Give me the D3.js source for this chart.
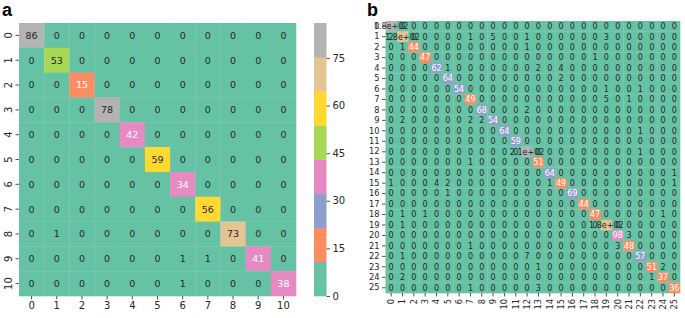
<!DOCTYPE html>
<html>
<head>
<meta charset="utf-8">
<script src="https://cdn.jsdelivr.net/npm/d3@7"></script>
<style>
  body { margin: 0; background: #fff; }
  text { font-family: "DejaVu Sans", sans-serif; }
</style>
</head>
<body>
<div id="chart"></div>
<script>
// panel a: 11 classes
let labelsA = d3.range(11)
let matrixA = [
    [86, 0, 0, 0, 0, 0, 0, 0, 0, 0, 0],
    [0, 53, 0, 0, 0, 0, 0, 0, 0, 0, 0],
    [0, 0, 15, 0, 0, 0, 0, 0, 0, 0, 0],
    [0, 0, 0, 78, 0, 0, 0, 0, 0, 0, 0],
    [0, 0, 0, 0, 42, 0, 0, 0, 0, 0, 0],
    [0, 0, 0, 0, 0, 59, 0, 0, 0, 0, 0],
    [0, 0, 0, 0, 0, 0, 34, 0, 0, 0, 0],
    [0, 0, 0, 0, 0, 0, 0, 56, 0, 0, 0],
    [0, 1, 0, 0, 0, 0, 0, 0, 73, 0, 0],
    [0, 0, 0, 0, 0, 0, 1, 1, 0, 41, 0],
    [0, 0, 0, 0, 0, 0, 1, 0, 0, 0, 38]
]
let colorbarTicksA = [0, 15, 30, 45, 60, 75]

// panel b: 26 classes
let labelsB = d3.range(26)
let matrixB = [
    [183,0,0,0,0,0,0,0,0,0,0,0,0,0,0,0,0,0,0,0,0,0,0,0,0,0],
    [2,177,0,0,0,0,0,1,0,5,0,0,1,0,0,0,0,0,0,3,0,0,0,0,0,0],
    [0,1,44,0,0,0,0,0,0,0,0,0,1,0,0,0,0,0,0,0,0,0,0,0,0,0],
    [0,0,0,47,0,0,0,0,0,0,0,0,0,0,0,0,0,0,1,0,0,0,0,0,0,0],
    [0,0,0,0,62,1,0,0,0,0,0,0,0,2,0,4,0,0,0,0,0,0,0,0,0,0],
    [0,0,0,0,0,64,0,0,0,0,0,0,0,0,0,2,0,0,0,0,0,0,0,0,0,0],
    [0,0,0,0,0,0,54,0,0,0,0,0,0,0,0,0,0,0,0,1,0,0,1,0,0,0],
    [0,0,0,0,0,0,0,49,0,0,0,0,0,0,0,0,0,0,0,5,0,1,0,0,0,0],
    [0,0,0,0,0,0,0,0,68,0,0,0,2,0,0,0,0,0,0,0,0,0,0,0,0,0],
    [0,2,0,0,0,0,0,2,2,54,0,0,0,0,0,0,0,0,0,0,0,0,0,0,0,0],
    [0,0,0,0,0,0,0,0,0,0,64,0,0,0,0,0,0,0,0,0,0,0,1,0,0,0],
    [0,0,0,0,0,0,0,0,0,0,0,59,0,0,0,0,0,0,0,0,0,0,0,0,0,0],
    [0,0,0,0,0,0,0,0,0,0,0,0,206,0,0,0,0,0,0,0,0,0,1,0,0,0],
    [0,0,0,0,0,0,0,1,0,0,0,0,0,51,0,0,0,0,0,0,0,0,0,0,0,0],
    [0,0,0,0,0,0,0,0,0,0,0,0,0,0,64,0,0,0,0,0,0,0,0,0,0,1],
    [1,0,0,0,4,2,0,0,0,0,0,0,0,0,1,49,0,0,0,0,0,0,0,0,0,1],
    [0,0,0,0,0,1,0,0,0,0,0,0,0,0,0,0,69,0,0,0,0,0,0,0,0,0],
    [0,0,0,0,0,0,0,0,0,0,0,0,0,0,0,0,0,44,0,0,0,0,0,0,0,0],
    [0,1,0,1,0,0,0,0,0,0,0,0,0,0,0,0,0,0,47,0,0,0,0,0,1,0],
    [0,1,0,0,0,0,0,0,0,0,0,0,0,0,0,0,0,0,0,176,0,0,0,0,0,0],
    [0,0,0,0,0,0,0,0,0,0,0,0,0,0,0,0,0,0,0,0,98,3,0,0,0,0],
    [0,0,0,0,0,0,0,1,0,0,0,0,0,0,0,0,0,0,0,0,3,48,0,0,0,0],
    [0,1,0,0,0,0,0,0,0,0,0,0,7,0,0,0,0,0,0,0,0,0,57,0,0,0],
    [0,0,0,0,0,0,0,0,0,0,0,0,0,1,0,0,0,0,0,0,0,0,0,51,2,0],
    [0,2,0,0,0,0,0,0,0,0,0,0,0,0,0,0,0,0,0,0,0,0,0,1,37,0],
    [0,0,0,0,0,0,0,1,0,0,0,0,0,3,0,0,0,0,0,0,0,0,0,0,0,36]
]

let palette = d3.schemeSet2
let darkText = "#262626"

// same rule seaborn uses to pick annotation colour
function luminance(c) {
    let rgb = d3.rgb(c)
    let lin = [rgb.r, rgb.g, rgb.b].map(v => {
        v = v / 255
        return v <= 0.03928 ? v / 12.92 : Math.pow((v + 0.055) / 1.055, 2.4)
    })
    return 0.2126 * lin[0] + 0.7152 * lin[1] + 0.0722 * lin[2]
}

// matplotlib-style ".2g"
function fmt(v) {
    if (v < 100) return String(v)
    return v.toExponential(1).replace(/e\+(\d)$/, "e+0$1")
}

let svg = d3.select("#chart").append("svg")
    .attr("width", 685)
    .attr("height", 318)

function drawHeatmap(cfg) {
    let g = svg.append("g")
    let flat = []
    cfg.matrix.forEach((row, i) => row.forEach((v, j) => flat.push({i: i, j: j, v: v})))

    let x = d3.scaleBand().domain(cfg.labels).range([cfg.left, cfg.right])
    let y = d3.scaleBand().domain(cfg.labels).range([cfg.top, cfg.bottom])
    let color = d3.scaleQuantize().domain([0, d3.max(flat, d => d.v)]).range(palette)

    g.selectAll(".cell")
        .data(flat)
        .enter().append("rect")
        .attr("class", "cell")
        .attr("x", d => x(d.j))
        .attr("y", d => y(d.i))
        .attr("width", x.bandwidth() + 0.3)
        .attr("height", y.bandwidth() + 0.3)
        .attr("fill", d => color(d.v))

    g.selectAll(".annot")
        .data(flat)
        .enter().append("text")
        .attr("class", "annot")
        .attr("x", d => x(d.j) + x.bandwidth() / 2)
        .attr("y", d => y(d.i) + y.bandwidth() / 2)
        .attr("dy", "0.36em")
        .attr("text-anchor", "middle")
        .attr("font-size", cfg.annotSize)
        .attr("fill", d => luminance(color(d.v)) > 0.408 ? darkText : "#fff")
        .text(d => fmt(d.v))

    // y axis
    let yAxis = g.append("g")
        .attr("transform", `translate(${cfg.left},0)`)
        .call(d3.axisLeft(y).tickSize(3.5).tickPadding(2.5))
    yAxis.select(".domain").remove()
    yAxis.selectAll("line").attr("stroke", darkText).attr("stroke-width", 0.8)
    yAxis.selectAll("text")
        .attr("font-size", cfg.tickSize)
        .attr("fill", darkText)
        .style("font-family", "DejaVu Sans")
    if (cfg.rotateY) {
        yAxis.selectAll("text")
            .attr("text-anchor", "middle")
            .attr("x", null).attr("dy", null)
            .attr("transform", "translate(-11,0) rotate(-90)")
            .attr("dy", "0.36em")
    }

    // x axis
    let xAxis = g.append("g")
        .attr("transform", `translate(0,${cfg.bottom})`)
        .call(d3.axisBottom(x).tickSize(3.5).tickPadding(2.5))
    xAxis.select(".domain").remove()
    xAxis.selectAll("line").attr("stroke", darkText).attr("stroke-width", 0.8)
    xAxis.selectAll("text")
        .attr("font-size", cfg.tickSize)
        .attr("fill", darkText)
        .style("font-family", "DejaVu Sans")
    if (cfg.rotateX) {
        xAxis.selectAll("text")
            .attr("text-anchor", "end")
            .attr("y", null).attr("dy", null)
            .attr("transform", "translate(0,6) rotate(-90)")
            .attr("dy", "0.36em")
    }

    // panel letter
    svg.append("text")
        .attr("x", cfg.letterX)
        .attr("y", 16)
        .attr("font-size", 18)
        .attr("font-weight", "bold")
        .style("font-family", "Liberation Sans, Arial, sans-serif")
        .attr("fill", "#000")
        .text(cfg.letter)

    return color
}

let colorA = drawHeatmap({
    matrix: matrixA, labels: labelsA,
    left: 19, right: 296, top: 23, bottom: 296,
    annotSize: 9.5, tickSize: 10,
    rotateY: true, rotateX: false,
    letter: "a", letterX: 2
})

drawHeatmap({
    matrix: matrixB, labels: labelsB,
    left: 385.5, right: 680, top: 21, bottom: 293,
    annotSize: 8, tickSize: 8.3,
    rotateY: false, rotateX: true,
    letter: "b", letterX: 367
})

// colorbar for panel a
let cbTop = 23, cbBottom = 296, cbLeft = 314, cbWidth = 12.5
let cbScale = d3.scaleLinear().domain(colorA.domain()).range([cbBottom, cbTop])
let cb = svg.append("g")
cb.selectAll("rect")
    .data(colorA.range())
    .enter().append("rect")
    .attr("x", cbLeft)
    .attr("y", d => cbScale(colorA.invertExtent(d)[1]))
    .attr("width", cbWidth)
    .attr("height", d => cbScale(colorA.invertExtent(d)[0]) - cbScale(colorA.invertExtent(d)[1]) + 0.3)
    .attr("fill", d => d)

let cbAxis = cb.append("g")
    .attr("transform", `translate(${cbLeft + cbWidth},0)`)
    .call(d3.axisRight(cbScale).tickValues(colorbarTicksA).tickSize(3.5).tickPadding(2.5))
cbAxis.select(".domain").remove()
cbAxis.selectAll("line").attr("stroke", darkText).attr("stroke-width", 0.8)
cbAxis.selectAll("text")
    .attr("font-size", 10)
    .attr("fill", darkText)
    .style("font-family", "DejaVu Sans")
</script>
</body>
</html>
